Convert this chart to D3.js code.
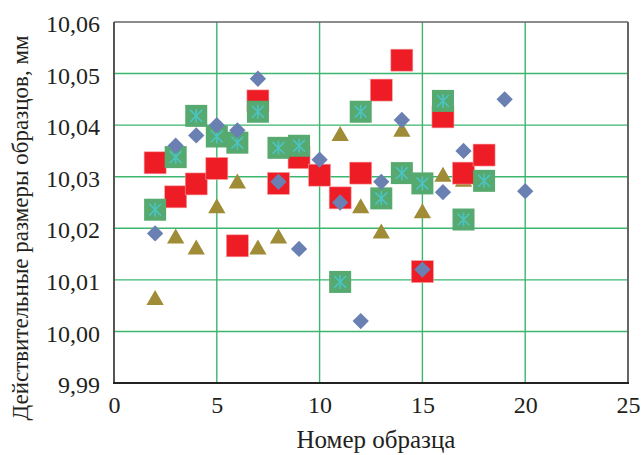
<!DOCTYPE html>
<html>
<head>
<meta charset="utf-8">
<script src="https://cdn.jsdelivr.net/npm/d3@7"></script>
<style>
  body { margin: 0; background: #fff; }
  text { font-family: "Liberation Serif", "Times New Roman", serif; fill: #231f20; }
</style>
</head>
<body>
<div id="plot"></div>
<script>
let blueX = [2, 3, 4, 5, 6, 7, 8, 9, 10, 11, 12, 13, 14, 15, 16, 17, 19, 20];
let blueY = [10.019, 10.036, 10.038, 10.040, 10.039, 10.049, 10.029, 10.016, 10.0333, 10.025, 10.002, 10.029, 10.041, 10.012, 10.027, 10.035, 10.045, 10.0272];

let redX = [2, 3, 4, 5, 6, 7, 8, 9, 10, 11, 12, 13, 14, 15, 16, 17, 18];
let redY = [10.0327, 10.0261, 10.0286, 10.0316, 10.0166, 10.0447, 10.0287, 10.0337, 10.0303, 10.0259, 10.0307, 10.0468, 10.0526, 10.0116, 10.0416, 10.0307, 10.0342];

let oliveX = [2, 3, 4, 5, 6, 7, 8, 11, 12, 13, 14, 15, 16, 17];
let oliveY = [10.0061, 10.018, 10.0159, 10.0239, 10.0287, 10.0159, 10.018, 10.0379, 10.0239, 10.019, 10.0387, 10.0229, 10.030, 10.029];

let greenX = [2, 3, 4, 5, 6, 7, 8, 9, 11, 12, 13, 14, 15, 16, 17, 18];
let greenY = [10.0236, 10.0338, 10.0418, 10.0378, 10.0366, 10.0426, 10.0356, 10.036, 10.0096, 10.0426, 10.0258, 10.0307, 10.0287, 10.0447, 10.0217, 10.0292];

let xTicks = [0, 5, 10, 15, 20, 25];
let yTicks = [9.99, 10.00, 10.01, 10.02, 10.03, 10.04, 10.05, 10.06];

let xTitle = 'Номер образца';
let yTitle = 'Действительные размеры образцов, мм';

let svgWidth = 643;
let svgHeight = 455;
let margin = {top: 22, right: 15, bottom: 72, left: 114};
let width = svgWidth - margin.left - margin.right;
let height = svgHeight - margin.top - margin.bottom;

let svg = d3.select('#plot')
            .append('svg')
                .attr('width', svgWidth)
                .attr('height', svgHeight)
                .append('g')
                    .attr('transform', `translate(${margin.left}, ${margin.top})`);

let x = d3.scaleLinear().domain([0, 25]).range([0, width]);
let y = d3.scaleLinear().domain([9.99, 10.06]).range([height, 0]);

let comma = d => d3.format('.2f')(d).replace('.', ',');

// grid
svg.append('g')
    .selectAll('line')
    .data(xTicks.slice(1, -1))
    .join('line')
        .attr('x1', d => x(d)).attr('x2', d => x(d))
        .attr('y1', 0).attr('y2', height)
        .attr('stroke', '#3db56e').attr('stroke-width', 1.4);

svg.append('g')
    .selectAll('line')
    .data(yTicks.slice(1, -1))
    .join('line')
        .attr('x1', 0).attr('x2', width)
        .attr('y1', d => y(d)).attr('y2', d => y(d))
        .attr('stroke', '#3db56e').attr('stroke-width', 1.4);

// axes
let xAxis = d3.axisBottom(x).tickValues(xTicks).tickSize(0).tickPadding(13).tickFormat(d3.format('d'));
let yAxis = d3.axisLeft(y).tickValues(yTicks).tickSize(0).tickPadding(14).tickFormat(comma);

svg.append('g')
    .attr('transform', `translate(0,${height})`)
    .call(xAxis)
    .call(g => g.select('.domain').remove())
    .selectAll('text').attr('font-size', 24);

svg.append('g')
    .call(yAxis)
    .call(g => g.select('.domain').remove())
    .selectAll('text').attr('font-size', 24).attr('dy', '0.4em');

// frame
svg.append('line').attr('x1', 0).attr('x2', width).attr('y1', 0).attr('y2', 0)
    .attr('stroke', '#666').attr('stroke-width', 1.5);
svg.append('line').attr('x1', width).attr('x2', width).attr('y1', 0).attr('y2', height)
    .attr('stroke', '#666').attr('stroke-width', 2);
svg.append('line').attr('x1', 0).attr('x2', 0).attr('y1', 0).attr('y2', height)
    .attr('stroke', '#555').attr('stroke-width', 2);
svg.append('line').attr('x1', -1).attr('x2', width + 1).attr('y1', height).attr('y2', height)
    .attr('stroke', '#222').attr('stroke-width', 2);

// markers: triangles, red, green, blue (this order for overlaps)
let olive = oliveX.map((v, i) => ({x: v, y: oliveY[i]}));
let red = redX.map((v, i) => ({x: v, y: redY[i]}));
let green = greenX.map((v, i) => ({x: v, y: greenY[i]}));
let blue = blueX.map((v, i) => ({x: v, y: blueY[i]}));

svg.append('g')
    .selectAll('path')
    .data(olive)
    .join('path')
        .attr('d', d3.symbol(d3.symbolTriangle, 130))
        .attr('transform', d => `translate(${x(d.x)},${y(d.y)})`)
        .attr('fill', '#a08c36');

let sq = 22;
svg.append('g')
    .selectAll('rect')
    .data(red)
    .join('rect')
        .attr('x', d => x(d.x) - sq / 2)
        .attr('y', d => y(d.y) - sq / 2)
        .attr('width', sq).attr('height', sq)
        .attr('fill', '#ee1c25')
        .attr('stroke', '#f5a0a4').attr('stroke-width', 0.6);

let gSq = svg.append('g')
    .selectAll('g')
    .data(green)
    .join('g')
        .attr('transform', d => `translate(${x(d.x)},${y(d.y)})`);

gSq.append('rect')
    .attr('x', -sq / 2).attr('y', -sq / 2)
    .attr('width', sq).attr('height', sq)
    .attr('fill', '#56a96f');

let a = 7;
gSq.append('path')
    .attr('d', `M0,${-a}V${a}M${-a * 0.85},${-a * 0.85}L${a * 0.85},${a * 0.85}M${a * 0.85},${-a * 0.85}L${-a * 0.85},${a * 0.85}`)
    .attr('stroke', '#4cc3c3').attr('stroke-width', 1.6).attr('fill', 'none');

svg.append('g')
    .selectAll('path')
    .data(blue)
    .join('path')
        .attr('d', d3.symbol(d3.symbolSquare, 133))
        .attr('transform', d => `translate(${x(d.x)},${y(d.y)}) rotate(45)`)
        .attr('fill', '#6a80b2');

// titles
svg.append('text')
    .attr('x', width / 2 + 5).attr('y', height + 65)
    .attr('text-anchor', 'middle')
    .attr('font-size', 25)
    .text(xTitle);

svg.append('text')
    .attr('transform', `translate(${-margin.left + 28},${206}) rotate(-90)`)
    .attr('text-anchor', 'middle')
    .attr('font-size', 23)
    .text(yTitle);
</script>
</body>
</html>
